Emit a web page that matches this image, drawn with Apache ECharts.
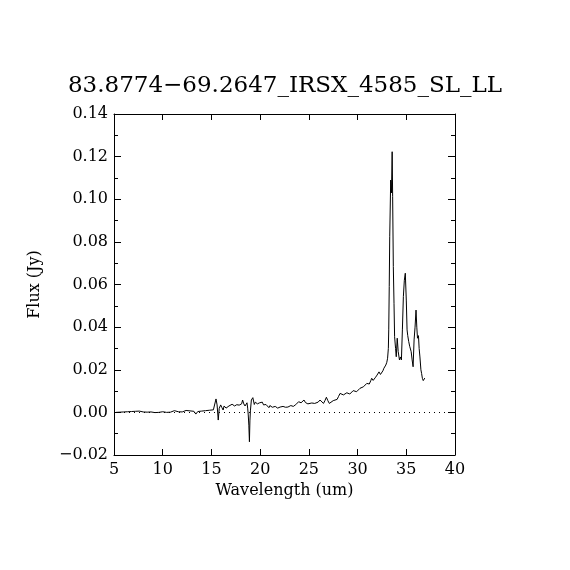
<!DOCTYPE html>
<html>
<head>
<meta charset="utf-8">
<script src="https://cdn.jsdelivr.net/npm/echarts@6/dist/echarts.min.js"></script>
<style>html,body{margin:0;padding:0;background:#fff}#c{width:570px;height:570px}</style>
</head>
<body>
<div id="c"></div>
<script>
const titleText = "83.8774\u221269.2647_IRSX_4585_SL_LL";
const xTicks = [5, 10, 15, 20, 25, 30, 35, 40];
const yTicks = [-0.02, 0, 0.02, 0.04, 0.06, 0.08, 0.10, 0.12, 0.14];

const wavelength = [
5.2,5.4,5.6,5.8,6.0,6.2,6.4,6.6,6.8,7.0,7.2,7.4,7.6,7.8,8.0,8.2,8.4,8.6,8.8,9.0,
9.2,9.4,9.6,9.8,10.0,10.2,10.4,10.6,10.8,11.0,11.2,11.4,11.6,11.8,12.0,12.2,12.4,12.6,12.8,13.0,
13.2,13.4,13.6,13.8,14.0,14.2,14.4,14.6,14.8,15.0,15.2,
15.35,15.47,15.58,15.7,15.8,15.95,16.08,16.2,16.3,16.4,16.5,16.6,16.7,16.8,16.9,17.0,17.12,17.25,17.38,17.5,
17.6,17.7,17.85,18.0,18.1,18.2,18.32,18.45,18.55,18.65,18.72,18.78,18.84,18.9,18.95,19.0,19.1,19.25,19.4,19.5,
19.6,19.72,19.85,19.95,20.1,20.22,20.35,20.48,20.6,20.75,20.9,21.0,21.1,21.25,21.4,21.55,21.7,21.8,21.9,22.05,
22.2,22.35,22.5,22.6,22.7,22.85,23.0,23.15,23.3,23.4,23.5,23.65,23.8,23.95,24.1,24.2,24.3,24.4,24.5,24.65,
24.8,24.9,25.0,25.1,25.3,25.45,25.6,25.8,25.95,26.15,26.3,26.5,26.65,26.8,26.95,27.1,27.3,27.5,27.7,27.9,
28.05,28.2,28.4,28.55,28.7,28.9,29.05,29.2,29.4,29.55,29.7,29.9,30.1,30.25,30.45,30.6,30.8,30.95,31.1,31.2,
31.35,31.45,31.6,31.7,31.85,32.0,32.1,32.2,32.35,32.45,32.6,32.7,32.8,32.9,33.0,33.08,33.16,33.2,33.25,33.3,
33.4,33.48,33.55,33.6,33.67,33.74,33.8,33.9,33.97,34.07,34.17,34.3,34.4,34.5,34.6,34.7,34.8,34.9,35.0,35.08,
35.15,35.25,35.35,35.5,35.6,35.7,35.8,35.9,36.0,36.08,36.15,36.25,36.32,36.4,36.5,36.57,36.65,36.74,36.82,36.9
];

const flux = [
0.0000,0.0002,0.0001,0.0003,0.0002,0.0004,0.0003,0.0005,0.0004,0.0006,0.0005,0.0007,0.0006,0.0004,0.0002,0.0003,0.0001,0.0000,0.0002,0.0001,
-0.0001,0.0002,0.0000,0.0001,0.0003,0.0002,0.0000,0.0003,0.0001,0.0005,0.0008,0.0006,0.0003,0.0004,0.0002,0.0006,0.0009,0.0004,0.0007,0.0002,
0.0005,-0.0008,0.0004,0.0001,0.0006,0.0002,0.0008,0.0003,0.0010,0.0004,0.0012,
0.0015,0.0063,0.0035,-0.0036,0.0019,0.0035,0.0022,0.0011,0.0030,0.0030,0.0020,0.0016,0.0026,0.0030,0.0024,0.0030,0.0038,0.0042,0.0030,0.0025,
0.0036,0.0045,0.0034,0.0030,0.0040,0.0058,0.0040,0.0030,0.0038,0.0045,0.0020,-0.0012,-0.0060,-0.0138,-0.0040,0.0007,0.0058,0.0069,0.0037,0.0048,
0.0050,0.0040,0.0037,0.0045,0.0042,0.0048,0.0035,0.0040,0.0037,0.0030,0.0022,0.0032,0.0030,0.0024,0.0018,0.0028,0.0026,0.0020,0.0016,0.0025,
0.0022,0.0028,0.0030,0.0024,0.0018,0.0025,0.0026,0.0032,0.0034,0.0028,0.0030,0.0036,0.0040,0.0050,0.0058,0.0045,0.0040,0.0050,0.0058,0.0046,
0.0037,0.0040,0.0035,0.0035,0.0044,0.0050,0.0042,0.0037,0.0048,0.0058,0.0050,0.0042,0.0055,0.0071,0.0055,0.0042,0.0050,0.0055,0.0058,0.0061,
0.0075,0.0089,0.0085,0.0082,0.0088,0.0092,0.0090,0.0086,0.0095,0.0102,0.0098,0.0097,0.0105,0.0113,0.0110,0.0120,0.0125,0.0136,0.0128,0.0133,
0.0148,0.0160,0.0150,0.0152,0.0165,0.0175,0.0182,0.0190,0.0178,0.0183,0.0195,0.0207,0.0215,0.0222,0.0235,0.0254,0.0300,0.0387,0.0590,0.0824,
0.1090,0.1030,0.1223,0.1012,0.0684,0.0512,0.0355,0.0300,0.0261,0.0348,0.0285,0.0246,0.0260,0.0246,0.0387,0.0543,0.0620,0.0653,0.0527,0.0387,
0.0360,0.0332,0.0310,0.0285,0.0246,0.0214,0.0340,0.0400,0.0480,0.0400,0.0348,0.0360,0.0300,0.0260,0.0200,0.0183,0.0160,0.0149,0.0158,0.0161
];

const points = wavelength.map((w, i) => [w, flux[i]]);

const font = "DejaVu Serif";
const chart = echarts.init(document.getElementById('c'), null, {renderer: 'canvas'});
const fmtY = v => {
  const s = Math.abs(v).toFixed(2);
  return v < -1e-9 ? '\u2212' + s : s;
};
const axisLineStyle = {show: true, onZero: false, lineStyle: {color: '#000', width: 1}};
chart.setOption({
  animation: false,
  backgroundColor: '#fff',
  title: {
    text: titleText, left: 'center', top: 70,
    textStyle: {fontFamily: font, fontSize: 23, fontWeight: 'normal', color: '#000'}
  },
  grid: {left: 114, right: 115, top: 114, bottom: 115, show: false},
  xAxis: [{
    type: 'value', min: xTicks[0], max: xTicks[xTicks.length - 1], interval: 5,
    position: 'bottom',
    name: 'Wavelength (um)', nameLocation: 'middle', nameGap: 28,
    nameTextStyle: {fontFamily: font, fontSize: 16, color: '#000'},
    axisLine: axisLineStyle,
    axisTick: {show: true, inside: true, length: 6, lineStyle: {color: '#000'}},
    axisLabel: {fontFamily: font, fontSize: 16, color: '#000', margin: 7},
    splitLine: {show: false}
  }, {
    type: 'value', min: xTicks[0], max: xTicks[xTicks.length - 1], interval: 5,
    position: 'top',
    axisLine: axisLineStyle,
    axisTick: {show: true, inside: true, length: 6, lineStyle: {color: '#000'}},
    axisLabel: {show: false},
    splitLine: {show: false}
  }],
  yAxis: [{
    type: 'value', min: yTicks[0], max: yTicks[yTicks.length - 1], interval: 0.02,
    position: 'left',
    name: 'Flux (Jy)', nameLocation: 'middle', nameGap: 71, nameRotate: 90,
    nameTextStyle: {fontFamily: font, fontSize: 16, color: '#000'},
    axisLine: axisLineStyle,
    axisTick: {show: true, inside: true, length: 7, lineStyle: {color: '#000'}},
    minorTick: {show: true, splitNumber: 2, length: 4, lineStyle: {color: '#000'}},
    axisLabel: {fontFamily: font, fontSize: 16, color: '#000', margin: 6, formatter: fmtY},
    splitLine: {show: false}
  }, {
    type: 'value', min: yTicks[0], max: yTicks[yTicks.length - 1], interval: 0.02,
    position: 'right',
    axisLine: axisLineStyle,
    axisTick: {show: true, inside: true, length: 7, lineStyle: {color: '#000'}},
    minorTick: {show: true, splitNumber: 2, length: 4, lineStyle: {color: '#000'}},
    axisLabel: {show: false},
    splitLine: {show: false}
  }],
  series: [{
    type: 'line', data: points, showSymbol: false, symbol: 'none',
    xAxisIndex: 0, yAxisIndex: 0,
    lineStyle: {color: '#000', width: 1},
    markLine: {
      silent: true, symbol: 'none', label: {show: false},
      lineStyle: {color: '#000', type: [1, 4], width: 1},
      data: [{yAxis: 0}]
    }
  }]
});
</script>
</body>
</html>
